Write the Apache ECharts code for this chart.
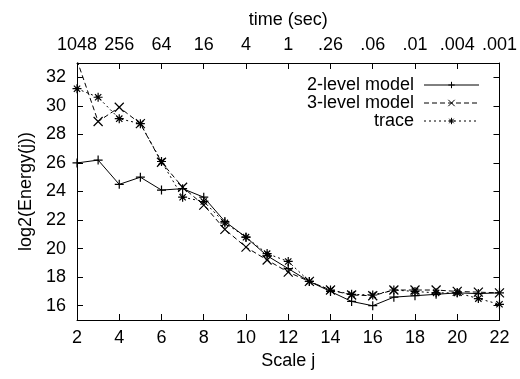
<!DOCTYPE html>
<html>
<head>
<meta charset="utf-8">
<script src="https://cdn.jsdelivr.net/npm/echarts@6/dist/echarts.min.js"></script>
<style>html,body{margin:0;padding:0;background:#fff;}#c{width:520px;height:379px;}</style>
</head>
<body>
<div id="c"></div>
<script>
var scales = [2,3,4,5,6,7,8,9,10,11,12,13,14,15,16,17,18,19,20,21,22];
var twoLevel = [26.0,26.2,24.5,25.0,24.1,24.2,23.6,21.9,20.8,19.5,18.6,17.7,17.0,16.3,16.0,16.6,16.7,16.8,16.9,16.85,16.9];
var threeLevel = [33.2,28.9,29.9,28.75,26.05,24.3,23.05,21.35,20.1,19.2,18.35,17.7,17.1,16.75,16.7,17.1,17.1,17.1,17.0,16.95,16.9];
var traceVals = [31.2,30.6,29.1,28.75,26.1,23.6,23.3,21.8,20.8,19.65,19.1,17.7,17.1,16.8,16.75,17.1,17.0,16.9,16.9,16.5,16.1];
var timeTicks = [2,4,6,8,10,12,14,16,18,20,22];
var timeLabels = ['1048','256','64','16','4','1','.26','.06','.01','.004','.001'];

function pairs(v){ return scales.map(function(x,i){ return [x, v[i]]; }); }

var FONT = 'Liberation Sans, Arial, sans-serif';
var FS = 18;
var plusPath = 'path://M5,0L5,10M0,5L10,5';
var crossPath = 'path://M0,0L10,10M10,0L0,10';
var starPath = 'path://M5,0L5,10M0,5L10,5M1.5,1.5L8.5,8.5M8.5,1.5L1.5,8.5';

function mkSeries(name, vals, sym, dash){
  return {
    name: name, type: 'line', data: pairs(vals), clip: true,
    symbol: sym, symbolSize: 9, showSymbol: true,
    lineStyle: {color: '#000', width: 1, type: dash},
    itemStyle: {color: 'none', borderColor: '#000', borderWidth: 1.2},
    emphasis: {disabled: true}, animation: false
  };
}

var textBase = {color: '#000', fontFamily: FONT, fontSize: FS};

var chart = echarts.init(document.getElementById('c'));
chart.setOption({
  animation: false,
  grid: {left: 77, right: 18, top: 63, bottom: 59},
  legend: {
    orient: 'vertical', align: 'right', left: 289, top: 71,
    itemWidth: 55, itemHeight: 8, itemGap: 0,
    lineStyle: {width: 1},
    itemStyle: {borderWidth: 1},
    textStyle: {color: '#000', fontFamily: FONT, fontSize: FS, width: 120, align: 'right', padding: [0, 5, 0, 0], lineHeight: 17},
    data: ['2-level model', '3-level model', 'trace']
  },
  xAxis: [{
    type: 'value', min: 2, max: 22, interval: 2, position: 'bottom',
    name: 'Scale j', nameLocation: 'middle', nameGap: 28, nameTextStyle: textBase,
    axisLine: {show: true, lineStyle: {color: '#000', width: 1}},
    axisTick: {show: true, inside: true, length: 6, lineStyle: {color: '#000'}},
    axisLabel: {color: '#000', fontFamily: FONT, fontSize: FS, margin: 9},
    splitLine: {show: false}
  }, {
    type: 'value', min: 2, max: 22, interval: 2, position: 'top',
    name: 'time (sec)', nameLocation: 'middle', nameGap: 34, nameTextStyle: textBase,
    axisLine: {show: true, lineStyle: {color: '#000', width: 1}},
    axisTick: {show: true, inside: true, length: 6, lineStyle: {color: '#000'}},
    axisLabel: {color: '#000', fontFamily: FONT, fontSize: FS, margin: 9,
      formatter: function(v){ var i = timeTicks.indexOf(v); return i >= 0 ? timeLabels[i] : ''; }},
    splitLine: {show: false}
  }],
  yAxis: [{
    type: 'value', min: 15, max: 33, splitNumber: 9, position: 'left',
    name: 'log2(Energy(j))', nameLocation: 'middle', nameGap: 41, nameTextStyle: textBase,
    axisLine: {show: true, lineStyle: {color: '#000', width: 1}},
    axisTick: {show: true, inside: true, length: 6, lineStyle: {color: '#000'}},
    axisLabel: {color: '#000', fontFamily: FONT, fontSize: FS, margin: 11, showMinLabel: false, showMaxLabel: false,
      formatter: function(v){ return (v % 2 === 0) ? String(v) : ''; }},
    splitLine: {show: false}
  }, {
    type: 'value', min: 15, max: 33, splitNumber: 9, position: 'right',
    axisLine: {show: true, lineStyle: {color: '#000', width: 1}},
    axisTick: {show: true, inside: true, length: 6, lineStyle: {color: '#000'}},
    axisLabel: {show: false},
    splitLine: {show: false}
  }],
  series: [
    mkSeries('2-level model', twoLevel, plusPath, 'solid'),
    mkSeries('3-level model', threeLevel, crossPath, [5, 3]),
    mkSeries('trace', traceVals, starPath, [2, 3])
  ]
});
</script>
</body>
</html>
